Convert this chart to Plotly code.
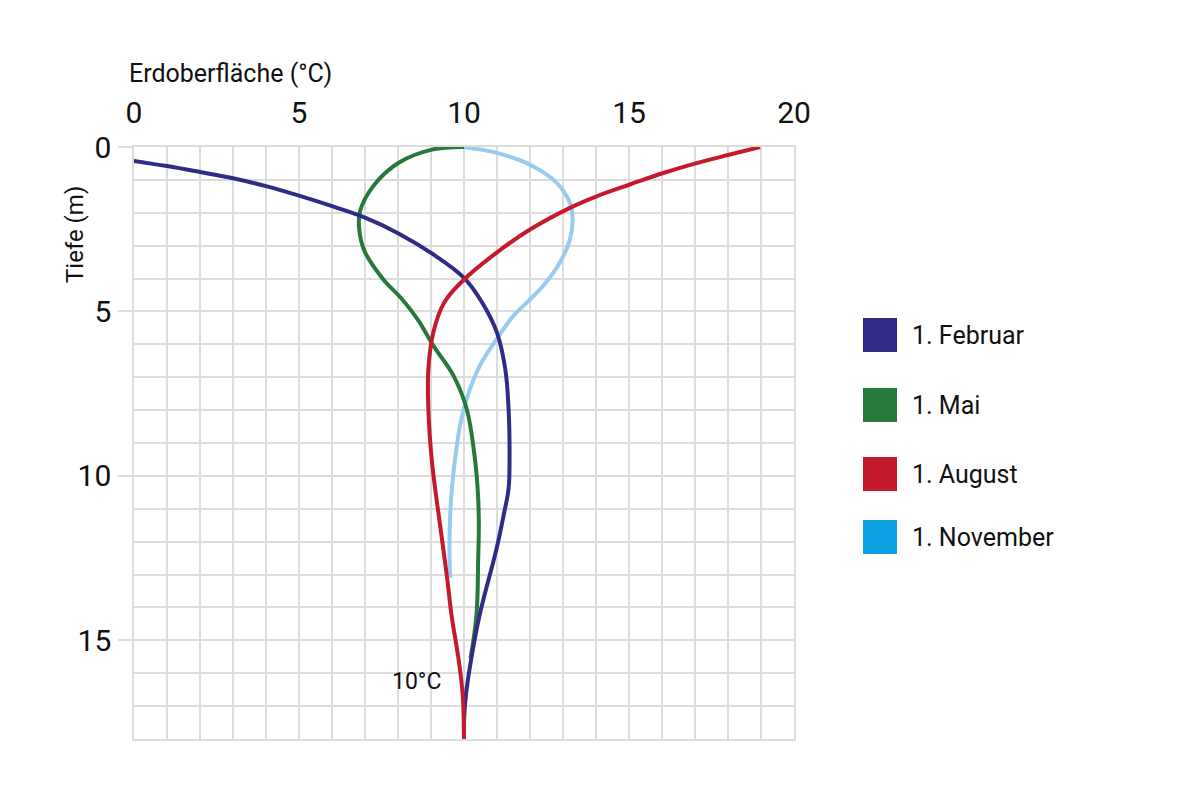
import plotly.graph_objects as go

# Temperaturprofile im Boden (Temperatur in °C, Tiefe in m)
feb_temp = [-0.15, 1.0, 2.0, 3.0, 4.0, 5.0, 6.0, 7.0, 8.0, 9.0, 10.0, 10.55, 11.0, 11.25, 11.35, 11.38, 11.35,
            11.2, 10.99, 10.48, 10.23, 10.06, 10.0, 10.0]
feb_depth = [0.4, 0.58, 0.76, 0.95, 1.19, 1.48, 1.8, 2.15, 2.62, 3.22, 3.98, 4.73, 5.65, 6.75, 7.95, 9.5, 10.4,
             11.2, 12.2, 14.2, 15.5, 16.65, 17.45, 18.0]

mai_temp = [10.0, 9.03, 8.02, 7.25, 6.85, 6.82, 6.98, 7.55, 8.1, 8.6, 9.07, 9.68, 10.08, 10.33, 10.42, 10.45,
            10.43, 10.38, 10.2]
mai_depth = [0.0, 0.08, 0.48, 1.19, 1.95, 2.45, 3.15, 4.02, 4.6, 5.25, 6.04, 6.95, 7.96, 9.48, 10.5, 11.5,
             12.5, 14.2, 15.55]

aug_temp = [18.97, 18.06, 17.05, 16.04, 15.03, 14.02, 13.21, 12.0, 10.99, 9.98, 9.4, 9.07, 8.92, 8.92, 9.02,
            9.18, 9.37, 9.5, 9.62, 9.83, 9.96, 10.0]
aug_depth = [0.0, 0.23, 0.49, 0.79, 1.14, 1.5, 1.85, 2.51, 3.21, 4.05, 4.73, 5.64, 6.75, 7.96, 9.48, 10.8,
             12.2, 13.2, 14.22, 15.54, 16.65, 18.0]

nov_temp = [10.0, 10.99, 12.0, 12.81, 13.21, 13.29, 13.21, 12.9, 12.4, 11.9, 11.5, 10.99, 10.48, 10.08,
            9.88, 9.73, 9.64, 9.58, 9.56, 9.58]
nov_depth = [0.0, 0.18, 0.54, 1.09, 1.7, 2.2, 2.81, 3.52, 4.22, 4.73, 5.13, 5.84, 6.65, 7.66, 8.47, 9.48,
             10.3, 11.2, 12.2, 13.1]

names = ["1. Februar", "1. Mai", "1. August", "1. November"]
line_colors = ["#302c85", "#26793a", "#c51a2c", "#98cbf0"]
legend_colors = ["#302c85", "#26793a", "#c51a2c", "#0fa0e3"]
temps = [feb_temp, mai_temp, aug_temp, nov_temp]
depths = [feb_depth, mai_depth, aug_depth, nov_depth]

grid = "#dcdcdc"
font = "Roboto"
txt = "#111111"

# Plotfläche in Pixeln (Seite hat 8px Rand)
L, R, T, B = 126, 786, 139, 731
W, H = R - L, B - T


def px(x):
    return (x - 8 - L) / W


def py(y):
    return (B - (y - 8)) / H


fig = go.Figure()

# Zeichenreihenfolge: November hinten
for i in [3, 1, 0, 2]:
    fig.add_trace(
        go.Scatter(
            x=temps[i],
            y=depths[i],
            mode="lines",
            name=names[i],
            line={"color": line_colors[i], "width": 4, "shape": "spline", "smoothing": 1.1},
            showlegend=False,
        )
    )

# Legende als Quadrate + Text
legend_y = [335, 405, 474, 537]
for name, color, ly in zip(names, legend_colors, legend_y):
    yc = py(ly)
    fig.add_shape(
        type="rect",
        xref="paper",
        yref="paper",
        x0=px(863),
        x1=px(897),
        y0=yc - 17 / H,
        y1=yc + 17 / H,
        fillcolor=color,
        line={"width": 0},
    )
    fig.add_annotation(
        text=name,
        xref="paper",
        yref="paper",
        x=px(910),
        y=yc,
        xanchor="left",
        yanchor="middle",
        showarrow=False,
        font={"size": 25, "family": font, "color": txt},
    )

fig.add_annotation(
    text="Erdoberfläche (°C)",
    xref="paper",
    yref="paper",
    x=px(127),
    y=py(73),
    xanchor="left",
    yanchor="middle",
    showarrow=False,
    font={"size": 25, "family": font, "color": txt},
)
fig.add_annotation(
    text="Tiefe (m)",
    xref="paper",
    yref="paper",
    x=px(75),
    y=py(235),
    xanchor="center",
    yanchor="middle",
    textangle=-90,
    showarrow=False,
    font={"size": 24, "family": font, "color": txt},
)
fig.add_annotation(
    text="10°C",
    x=8.55,
    y=16.25,
    xanchor="center",
    yanchor="middle",
    showarrow=False,
    font={"size": 23, "family": font, "color": txt},
)

fig.update_xaxes(
    range=[0, 20],
    side="top",
    tickvals=[0, 5, 10, 15, 20],
    ticks="",
    ticklabelstandoff=10,
    tickfont={"size": 30, "family": font, "color": txt},
    showgrid=True,
    gridcolor=grid,
    gridwidth=1.5,
    minor={"dtick": 1, "showgrid": True, "gridcolor": grid, "gridwidth": 1.5},
    zeroline=False,
    showline=True,
    mirror=True,
    linecolor=grid,
    linewidth=1.5,
)
fig.update_yaxes(
    range=[18, 0],
    tickvals=[0, 5, 10, 15],
    ticks="outside",
    ticklen=14,
    tickcolor=grid,
    tickwidth=1.5,
    ticklabelstandoff=1,
    tickfont={"size": 30, "family": font, "color": txt},
    showgrid=True,
    gridcolor=grid,
    gridwidth=1.5,
    minor={"dtick": 1, "showgrid": True, "gridcolor": grid, "gridwidth": 1.5},
    zeroline=False,
    showline=True,
    mirror=True,
    linecolor=grid,
    linewidth=1.5,
)

fig.update_layout(
    width=1200,
    height=800,
    margin={"l": L, "r": 1200 - R, "t": T, "b": 800 - B},
    paper_bgcolor="white",
    plot_bgcolor="white",
    font={"family": font},
    showlegend=False,
)

fig.write_html("out.html")
